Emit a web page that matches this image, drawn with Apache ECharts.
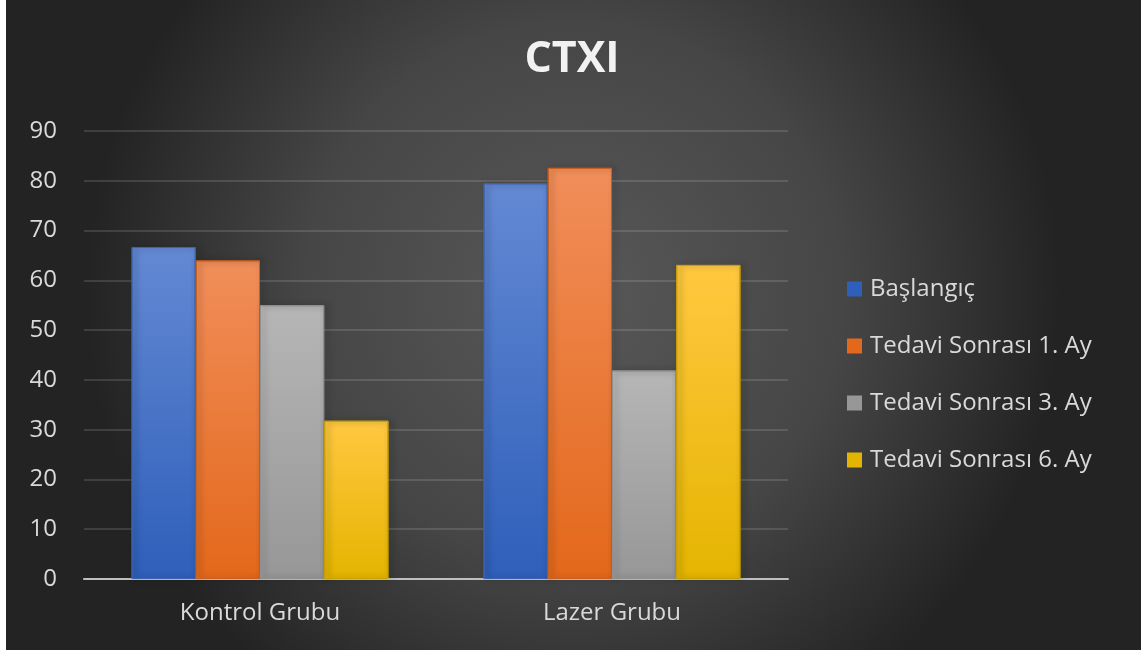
<!DOCTYPE html>
<html>
<head>
<meta charset="utf-8">
<script src="https://cdn.jsdelivr.net/npm/echarts@6/dist/echarts.min.js"></script>
<style>
  html, body { margin: 0; padding: 0; background: #ffffff; }
  #chart { position: absolute; left: 6px; top: 0; width: 1135px; height: 650px; }
</style>
</head>
<body>
<div id="chart"></div>
<script>
const titleText = 'CTXI';
const categories = ['Kontrol Grubu', 'Lazer Grubu'];
const seriesNames = ['Başlangıç', 'Tedavi Sonrası 1. Ay', 'Tedavi Sonrası 3. Ay', 'Tedavi Sonrası 6. Ay'];
const baslangic = [66.7, 79.5];
const ay1 = [64.0, 82.6];
const ay3 = [55.0, 41.9];
const ay6 = [31.8, 63.1];
const yTicks = [0, 10, 20, 30, 40, 50, 60, 70, 80, 90];

// top / bottom colour of each series' bar gradient
const palette = [
  ['#6389d3', '#2f5fba'],
  ['#f18e5a', '#e3681b'],
  ['#b6b6b6', '#979797'],
  ['#ffc840', '#e4b500']
];
const borders = ['#3a64b0', '#c9601e', '#8f8f8f', '#c9a000'];
const values = [baslangic, ay1, ay3, ay6];

const FONT = '"Open Sans", "Noto Sans", sans-serif';

const chart = echarts.init(document.getElementById('chart'));

const series = values.map((v, i) => ({
  name: seriesNames[i],
  type: 'bar',
  data: v,
  barGap: '0%',
  barCategoryGap: '27%',
  itemStyle: {
    color: new echarts.graphic.LinearGradient(0, 0, 0, 1, [
      { offset: 0, color: palette[i][0] },
      { offset: 1, color: palette[i][1] }
    ]),
    borderColor: borders[i],
    borderWidth: 1,
    shadowColor: 'rgba(0,0,0,0.45)',
    shadowBlur: 6,
    shadowOffsetX: 3,
    shadowOffsetY: 0
  }
}));

chart.setOption({
  backgroundColor: new echarts.graphic.RadialGradient(0.5, 0.45, 0.75, [
    { offset: 0, color: '#585858' },
    { offset: 0.55, color: '#464646' },
    { offset: 1, color: '#232323' }
  ]),
  title: {
    text: titleText,
    left: 561,
    top: 33,
    textAlign: 'center',
    textStyle: { color: '#f2f2f2', fontSize: 43, fontWeight: 'bold', fontFamily: FONT }
  },
  legend: {
    orient: 'vertical',
    left: 836,
    top: 272,
    itemGap: 33,
    itemWidth: 15,
    itemHeight: 15,
    icon: 'rect',
    textStyle: { color: '#d9d9d9', fontSize: 24, fontFamily: FONT, padding: [0, 0, 0, 3] },
    data: seriesNames.map((n, i) => ({ name: n, itemStyle: { color: palette[i][1], borderWidth: 0, shadowBlur: 0, shadowOffsetX: 0 } }))
  },
  grid: { left: 78, top: 131, width: 704, height: 448, containLabel: false },
  xAxis: {
    type: 'category',
    data: categories,
    axisLine: { lineStyle: { color: '#bfbfbf', width: 2 } },
    axisTick: { show: false },
    axisLabel: { color: '#d9d9d9', fontSize: 24, fontFamily: FONT, margin: 22 }
  },
  yAxis: {
    type: 'value',
    min: 0,
    max: 90,
    interval: 10,
    axisLine: { show: false },
    axisTick: { show: false },
    axisLabel: {
      color: '#d9d9d9', fontSize: 24, fontFamily: FONT, margin: 27,
      formatter: (val) => yTicks.includes(val) ? String(val) : ''
    },
    splitLine: { lineStyle: { color: 'rgba(255,255,255,0.13)', width: 2 } }
  },
  series: series
});
</script>
</body>
</html>
